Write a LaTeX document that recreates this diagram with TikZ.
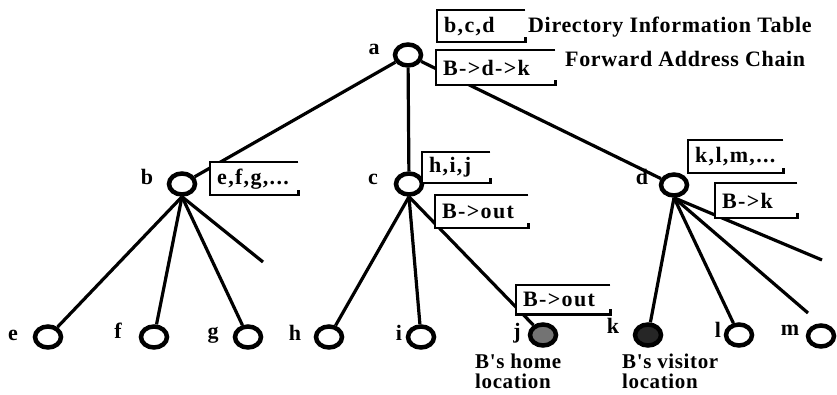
\documentclass[tikz,border=0pt]{standalone}
\usepackage{fontspec}
\setmainfont{Liberation Serif}
\newfontfamily\tabfont[LetterSpace=6]{Liberation Serif}
\newfontfamily\notefont[LetterSpace=3]{Liberation Serif}
\usetikzlibrary{shapes.geometric}

\tikzset{
  site/.style={draw, ellipse, line width=4.5pt, minimum width=26pt, minimum height=21pt, inner sep=0pt},
  home/.style={site, fill=black!55},
  visit/.style={site, fill=black!85},
  link/.style={line width=3.2pt},
  sitetag/.style={anchor=base, inner sep=0pt, font=\bfseries\fontsize{22}{22}\selectfont},
  tab/.style={anchor=north west, inner xsep=7pt, inner ysep=0pt, align=left,
    font=\tabfont\bfseries\fontsize{22}{22}\selectfont},
  tabline/.style={line width=2.2pt},
  note/.style={inner sep=0pt, font=\notefont\bfseries\fontsize{22}{22}\selectfont},
  subnote/.style={inner sep=0pt, font=\notefont\bfseries\fontsize{21}{20}\selectfont}
}

\begin{document}
\begin{tikzpicture}[x=1pt, y=-1pt]
  \useasboundingbox (0,0) rectangle (837,395);

  % Sites
  \node[site] (a) at (408,55) {};
  \node[site] (b) at (182,184) {};
  \node[site] (c) at (409,184) {};
  \node[site] (d) at (674,185) {};
  \node[site] (e) at (48,337) {};
  \node[site] (f) at (154,337) {};
  \node[site] (g) at (248,337) {};
  \node[site] (h) at (329,337) {};
  \node[site] (i) at (421,337) {};
  \node[home] (j) at (543,335) {};
  \node[visit] (k) at (648,335) {};
  \node[site] (l) at (739,335) {};
  \node[site] (m) at (821,336) {};

  % Site names
  \node[sitetag] (na) at (374,55) {a};
  \node[sitetag] (nb) at (147,185) {b};
  \node[sitetag] (nc) at (373,185) {c};
  \node[sitetag] (nd) at (642,185) {d};
  \node[sitetag] (ne) at (13,340) {e};
  \node[sitetag] (nf) at (118,338) {f};
  \node[sitetag] (ng) at (213,338) {g};
  \node[sitetag] (nh) at (295,340) {h};
  \node[sitetag] (ni) at (399,340) {i};
  \node[sitetag] (nj) at (517,338) {j};
  \node[sitetag] (nk) at (613,333) {k};
  \node[sitetag] (nl) at (718,337) {l};
  \node[sitetag] (nm) at (790,335) {m};

  % Loose branches
  \coordinate (bfree) at (263,262);
  \coordinate (dm) at (808,313);
  \coordinate (dfree) at (822,260);

  % Links
  \draw[link] (a) -- (b);
  \draw[link] (a) -- (c);
  \draw[link] (a) -- (d);
  \draw[link] (b.south) -- (e);
  \draw[link] (b.south) -- (f);
  \draw[link] (b.south) -- (g);
  \draw[link] (b.south) -- (bfree);
  \draw[link] (c.south) -- (h);
  \draw[link] (c.south) -- (i);
  \draw[link] (c.south) -- (j);
  \draw[link] (d.south) -- (k);
  \draw[link] (d.south) -- (l);
  \draw[link] (d.south) -- (dm);
  \draw[link] (d.south) -- (dfree);

  % Tables
  \node[tab, text width=74pt, minimum height=32pt, fill=white] (dit) at (437,10) {b,c,d};
  \node[tab, text width=105pt, minimum height=35pt, fill=white] (fac) at (436,50) {B->d->k};
  \node[tab, text width=74pt, minimum height=33pt, fill=white] (tb) at (210,162) {e,f,g,...};
  \node[tab, text width=54pt, minimum height=31pt, fill=white] (tc) at (422,152) {h,i,j};
  \node[tab, text width=79pt, minimum height=33pt, fill=white] (fc) at (435,195) {B->out};
  \node[tab, text width=81pt, minimum height=33pt, fill=white] (td) at (688,140) {k,l,m,...};
  \node[tab, text width=68pt, minimum height=35pt, fill=white] (fd) at (715,183) {B->k};
  \node[tab, text width=80pt, minimum height=29pt, fill=white] (fj) at (516,285) {B->out};

  \foreach \t in {dit,fac,tb,tc,fc,td,fd,fj}
    \draw[tabline] (\t.north east) -- (\t.north west) -- (\t.south west)
      -- (\t.south east) -- ++(0,-5);

  % Legend and notes
  \node[note, anchor=base west] (ldit) at (528,33) {Directory Information Table};
  \node[note, anchor=base west] (lfac) at (565,67) {Forward Address Chain};
  \node[subnote, anchor=north west, align=left] (lj) at (475,354) {B's home\\location};
  \node[subnote, anchor=north west, align=left] (lk) at (622,354) {B's visitor\\location};
\end{tikzpicture}
\end{document}
